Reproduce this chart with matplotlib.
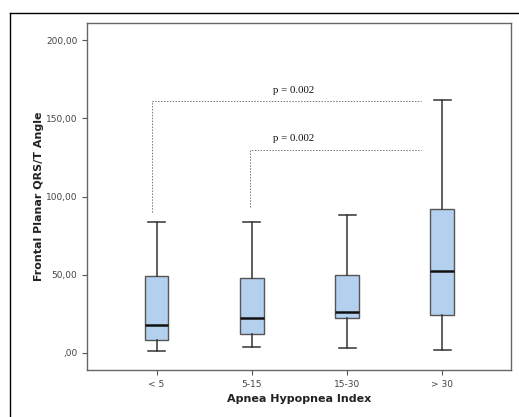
import matplotlib
matplotlib.use("Agg")
import matplotlib.pyplot as plt
from matplotlib.lines import Line2D

# group labels and five-number summaries
groups = ["< 5", "5-15", "15-30", "> 30"]
whisker_low = [1.0, 4.0, 3.0, 2.0]
q1 = [8.0, 12.0, 22.0, 24.0]
median = [18.0, 22.0, 26.0, 52.5]
q3 = [49.0, 48.0, 50.0, 92.0]
whisker_high = [84.0, 84.0, 88.0, 162.0]

y_ticks = [0, 50, 100, 150, 200]
y_tick_labels = [",00", "50,00", "100,00", "150,00", "200,00"]

# significance brackets: (left x, right x, bracket height, bottom of left leg, label)
brackets = [
    (0.95, 3.78, 161.0, 90.0, "p = 0.002"),
    (1.98, 3.78, 130.0, 93.0, "p = 0.002"),
]

BOX_FILL = "#b4d0ef"
EDGE = "#555555"

fig = plt.figure(figsize=(5.19, 4.17), dpi=100)
fig.patch.set_facecolor("white")
ax = fig.add_axes([0.1676, 0.1127, 0.8170, 0.8321])

stats = [
    {"whislo": lo, "q1": a, "med": m, "q3": b, "whishi": hi, "fliers": [], "label": g}
    for g, lo, a, m, b, hi in zip(groups, whisker_low, q1, median, q3, whisker_high)
]
ax.bxp(
    stats,
    positions=range(1, len(groups) + 1),
    widths=0.25,
    patch_artist=True,
    showfliers=False,
    boxprops=dict(facecolor=BOX_FILL, edgecolor=EDGE, linewidth=1.0),
    medianprops=dict(color="#111111", linewidth=1.8),
    whiskerprops=dict(color="#333333", linewidth=1.1),
    capprops=dict(color="#333333", linewidth=1.1),
    capwidths=0.18,
)

for x0, x1, top, leg, label in brackets:
    ax.plot([x0, x0, x1], [leg, top, top], color="#777777", linestyle=(0, (1.5, 1.5)),
            linewidth=0.7)
    ax.text(2.44, top + 4, label, family="Liberation Serif", fontsize=7.8,
            ha="center", va="bottom", color="#111111")

ax.set_xlim(0.27, 4.72)
ax.set_ylim(-11, 211)
ax.set_yticks(y_ticks)
ax.set_yticklabels(y_tick_labels)
ax.set_xticks(range(1, len(groups) + 1))
ax.set_xticklabels(groups)
ax.tick_params(axis="both", labelsize=6.5, labelcolor="#444444", color="#555555",
               length=3.5, width=0.8, direction="out")
for spine in ax.spines.values():
    spine.set_color("#666666")
    spine.set_linewidth(1.0)

ax.set_ylabel("Frontal Planar QRS/T Angle", fontsize=8, fontweight="bold",
              color="#222222", labelpad=1)
ax.set_xlabel("Apnea Hypopnea Index", fontsize=8, fontweight="bold",
              color="#222222", labelpad=4)

# outer frame of the figure panel (top and left edges visible)
fig.add_artist(Line2D([9.5 / 519, 1.0], [1 - 12.5 / 417] * 2, color="black", linewidth=1.0))
fig.add_artist(Line2D([9.5 / 519] * 2, [0.0, 1 - 12.5 / 417], color="black", linewidth=1.0))

fig.savefig("out.png", dpi=100, facecolor="white")
